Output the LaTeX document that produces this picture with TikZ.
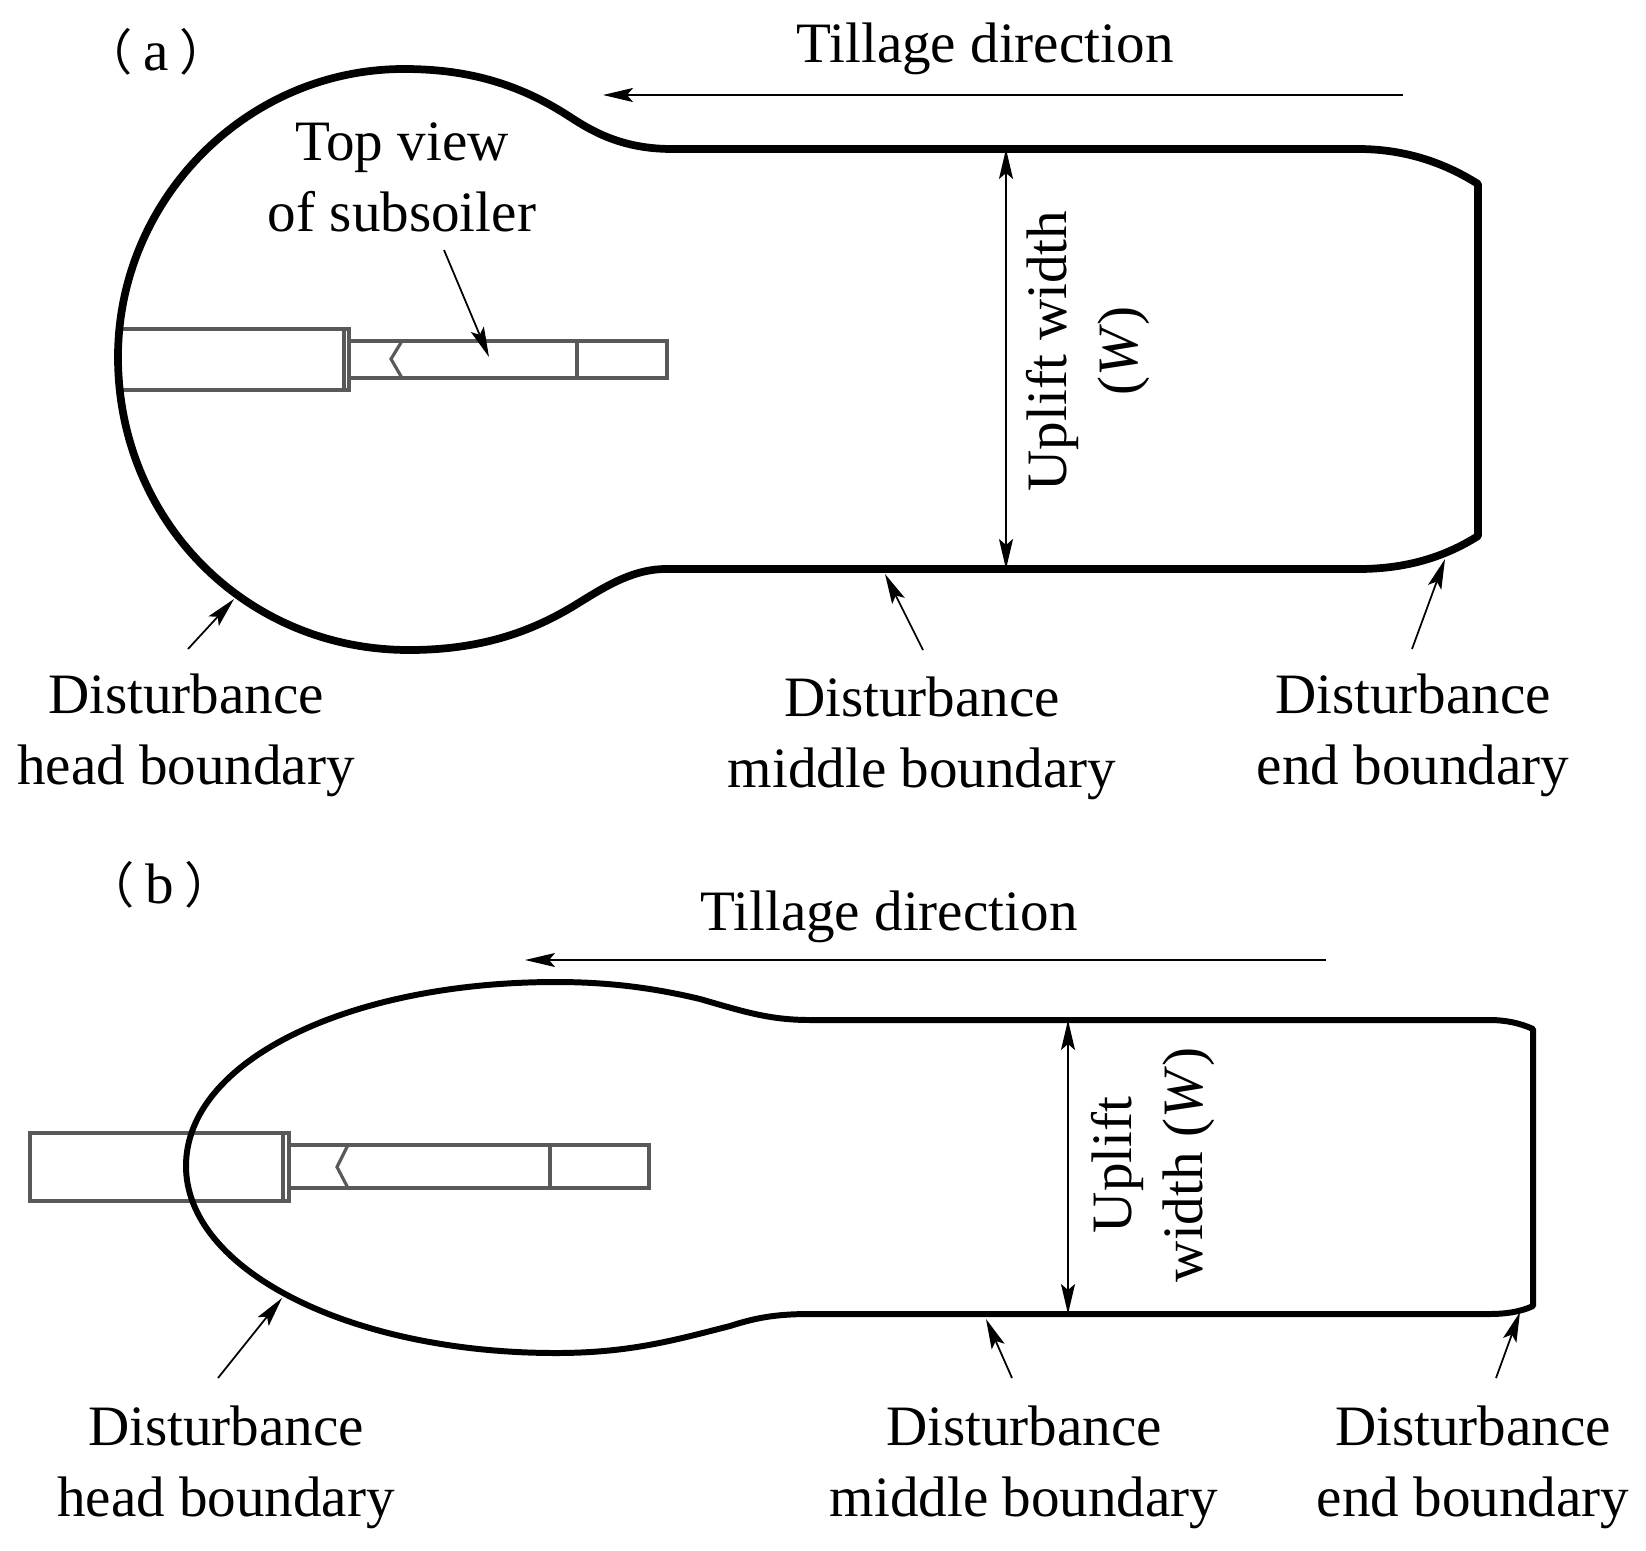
\documentclass[tikz,border=0pt]{standalone}
\usepackage{fontspec}
\setmainfont{Liberation Serif}
\newfontfamily\cjk{Noto Sans CJK SC}
\usetikzlibrary{arrows.meta}
\tikzset{
    lbl/.style = {inner sep = 0pt, align = center, font = \fontsize{16.25}{20.2}\selectfont},
    tag/.style = {inner sep = 0pt, anchor = base, font = \fontsize{16.25}{20.2}\selectfont},
    outline/.style = {black, line width = 2.2pt, line join = round},
    tool/.style = {black!65, line width = 0.9pt},
    tip/.style = {black, line width = 0.5pt, -{Stealth[length = 3mm, width = 1.4mm, inset = 0.6mm]}},
    bothtip/.style = {black, line width = 0.5pt, {Stealth[length = 3mm, width = 1.4mm, inset = 0.6mm]}-{Stealth[length = 3mm, width = 1.4mm, inset = 0.6mm]}}
}
\newcommand{\cjkparen}[1]{{\fontsize{14}{14}\cjk （}\kern 3pt#1\kern 3pt{\fontsize{14}{14}\cjk ）}}
\begin{document}
\begin{tikzpicture}
    \useasboundingbox (0, 0) rectangle (16.46, -15.5);
    % panel a
    \draw[tool] (1.2, -3.29) rectangle (3.49, -3.90);
    \draw[tool] (3.44, -3.29) -- (3.44, -3.90);
    \draw[tool] (3.49, -3.41) rectangle (6.67, -3.78);
    \draw[tool] (5.77, -3.41) -- (5.77, -3.78);
    \draw[tool] (4.02, -3.41) -- (3.91, -3.59) -- (4.02, -3.78);
    \draw[outline] (6.72, -1.49) .. controls (6.20, -1.49) and (5.90, -1.30) .. (5.67, -1.15)
        .. controls (5.20, -0.85) and (4.70, -0.69) .. (4.04, -0.69)
        .. controls (2.46, -0.69) and (1.18, -2.00) .. (1.18, -3.57)
        .. controls (1.18, -5.20) and (2.45, -6.50) .. (4.09, -6.50)
        .. controls (4.80, -6.50) and (5.30, -6.32) .. (5.72, -6.07)
        .. controls (6.00, -5.90) and (6.30, -5.69) .. (6.66, -5.69)
        -- (13.58, -5.69) .. controls (14.00, -5.69) and (14.40, -5.60) .. (14.78, -5.36)
        -- (14.78, -1.84) .. controls (14.40, -1.60) and (14.00, -1.49) .. (13.58, -1.49) -- cycle;

    \node[tag] (labelA) at (1.56, -0.70) {\cjkparen{a}};
    \node[tag] (tillageA) at (9.85, -0.62) {Tillage direction};
    \coordinate (tillageStartA) at (14.03, -0.95);
    \coordinate (tillageEndA) at (6.03, -0.95);
    \draw[tip] (tillageStartA) -- (tillageEndA);

    \node[lbl] (viewA) at (4.02, -1.77) {Top view\\of subsoiler};
    \coordinate (viewTailA) at (4.44, -2.50);
    \coordinate (viewTipA) at (4.89, -3.57);
    \draw[tip] (viewTailA) -- (viewTipA);

    \coordinate (widthTopA) at (10.06, -1.49);
    \coordinate (widthBotA) at (10.06, -5.69);
    \draw[bothtip] (widthTopA) -- (widthBotA);
    \node[lbl, rotate = 90] (widthA) at (10.88, -3.51) {Uplift width\\(\textit{W})};

    \node[lbl] (headA) at (1.86, -7.35) {Disturbance\\head boundary};
    \coordinate (headTailA) at (1.88, -6.49);
    \coordinate (headTipA) at (2.34, -5.99);
    \draw[tip] (headTailA) -- (headTipA);

    \node[lbl] (middleA) at (9.22, -7.38) {Disturbance\\middle boundary};
    \coordinate (middleTailA) at (9.23, -6.50);
    \coordinate (middleTipA) at (8.85, -5.74);
    \draw[tip] (middleTailA) -- (middleTipA);

    \node[lbl] (endA) at (14.13, -7.35) {Disturbance\\end boundary};
    \coordinate (endTailA) at (14.12, -6.49);
    \coordinate (endTipA) at (14.45, -5.59);
    \draw[tip] (endTailA) -- (endTipA);

    % panel b
    \draw[tool] (0.30, -11.33) rectangle (2.89, -12.01);
    \draw[tool] (2.83, -11.33) -- (2.83, -12.01);
    \draw[tool] (2.89, -11.45) rectangle (6.49, -11.88);
    \draw[tool] (5.50, -11.45) -- (5.50, -11.88);
    \draw[tool] (3.48, -11.45) -- (3.37, -11.67) -- (3.48, -11.88);
    \draw[outline, line width = 1.7pt] (8.10, -10.20) .. controls (7.70, -10.20) and (7.45, -10.12) .. (7.00, -9.99)
        .. controls (6.50, -9.87) and (6.05, -9.82) .. (5.56, -9.82)
        .. controls (3.50, -9.82) and (1.86, -10.60) .. (1.86, -11.66)
        .. controls (1.86, -12.70) and (3.50, -13.53) .. (5.56, -13.53)
        .. controls (6.30, -13.53) and (6.75, -13.40) .. (7.30, -13.26)
        .. controls (7.55, -13.18) and (7.75, -13.14) .. (8.10, -13.14)
        -- (14.90, -13.14) .. controls (15.05, -13.14) and (15.20, -13.12) .. (15.33, -13.06)
        -- (15.33, -10.29) .. controls (15.20, -10.23) and (15.05, -10.20) .. (14.90, -10.20) -- cycle;

    \node[tag] (labelB) at (1.60, -9.03) {\cjkparen{b}};
    \node[tag] (tillageB) at (8.89, -9.30) {Tillage direction};
    \coordinate (tillageStartB) at (13.26, -9.60);
    \coordinate (tillageEndB) at (5.25, -9.60);
    \draw[tip] (tillageStartB) -- (tillageEndB);

    \coordinate (widthTopB) at (10.68, -10.20);
    \coordinate (widthBotB) at (10.68, -13.14);
    \draw[bothtip] (widthTopB) -- (widthBotB);
    \node[lbl, rotate = 90] (widthB) at (11.53, -11.65) {Uplift\\width (\textit{W})};

    \node[lbl] (headB) at (2.26, -14.67) {Disturbance\\head boundary};
    \coordinate (headTailB) at (2.18, -13.78);
    \coordinate (headTipB) at (2.82, -12.98);
    \draw[tip] (headTailB) -- (headTipB);

    \node[lbl] (middleB) at (10.24, -14.67) {Disturbance\\middle boundary};
    \coordinate (middleTailB) at (10.12, -13.78);
    \coordinate (middleTipB) at (9.86, -13.19);
    \draw[tip] (middleTailB) -- (middleTipB);

    \node[lbl] (endB) at (14.73, -14.67) {Disturbance\\end boundary};
    \coordinate (endTailB) at (14.96, -13.78);
    \coordinate (endTipB) at (15.20, -13.12);
    \draw[tip] (endTailB) -- (endTipB);
\end{tikzpicture}
\end{document}
